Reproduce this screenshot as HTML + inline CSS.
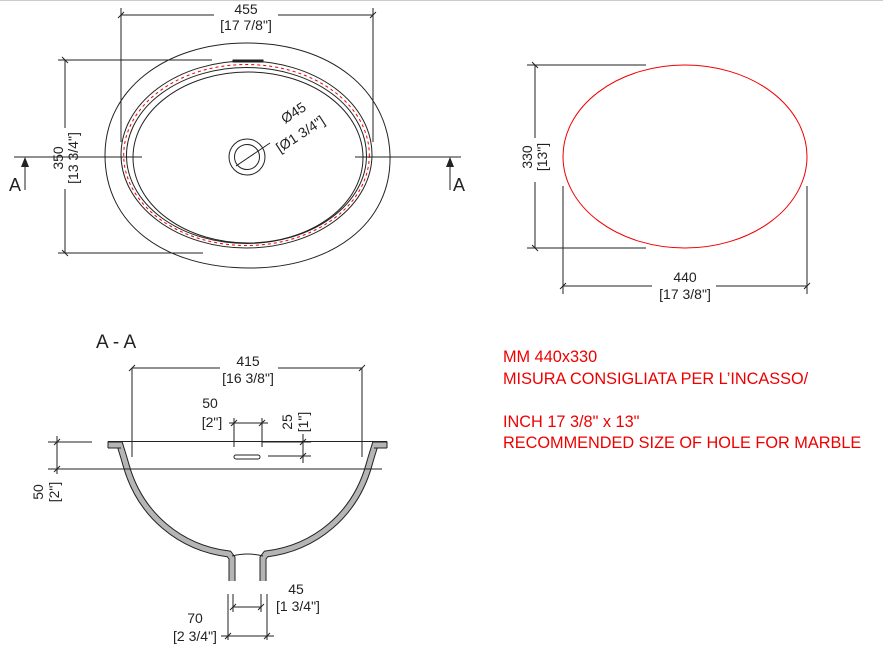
<!DOCTYPE html>
<html><head><meta charset="utf-8"><style>
html,body{margin:0;padding:0;background:#fff;}
svg{display:block}
text{font-family:"Liberation Sans",sans-serif;font-size:14px;fill:#222}
.r{fill:#e00;font-size:16.3px}
</style></head><body>
<svg width="883" height="649" viewBox="0 0 883 649" xmlns="http://www.w3.org/2000/svg">
<rect x="0" y="0" width="883" height="1" fill="#ccc"/>
<g stroke="#222" stroke-width="1" fill="none">
<path d="M247,43 C330,43 388,90 390,155 C392,225 330,268 250,268 C165,268 105,225 105,155 C105,90 165,43 247,43 Z"/>
<ellipse cx="246.5" cy="154.5" rx="125.5" ry="93.5"/>
<ellipse cx="246.5" cy="155.5" rx="120" ry="88"/>
<ellipse cx="248" cy="157.5" rx="115" ry="85.5"/>
<ellipse cx="246.5" cy="155" rx="122.8" ry="90.5" stroke="#e00" stroke-dasharray="3,3"/>
<rect x="233" y="60" width="30" height="2" fill="#222"/>
<circle cx="247" cy="157" r="18"/>
<circle cx="247" cy="157" r="12.5"/>
<line x1="236" y1="166" x2="270" y2="143"/>
<line x1="121" y1="8" x2="121" y2="142"/>
<line x1="373" y1="8" x2="373" y2="142"/>
<line x1="121" y1="15" x2="214" y2="15"/>
<line x1="278" y1="15" x2="373" y2="15"/>
<line x1="118" y1="18" x2="124" y2="12"/><line x1="370" y1="18" x2="376" y2="12"/>
<line x1="58" y1="60" x2="212" y2="60"/>
<line x1="58" y1="253" x2="203" y2="253"/>
<line x1="65" y1="60" x2="65" y2="128"/>
<line x1="65" y1="189" x2="65" y2="253"/>
<line x1="62" y1="57" x2="68" y2="63"/><line x1="62" y1="250" x2="68" y2="256"/>
<line x1="14" y1="157" x2="142" y2="157"/>
<line x1="355" y1="157" x2="461" y2="157"/>
<line x1="25" y1="165" x2="25" y2="190"/>
<line x1="450" y1="165" x2="450" y2="190"/>
<ellipse cx="685" cy="156.5" rx="122" ry="91.5" stroke="#e00"/>
<line x1="527" y1="65" x2="646" y2="65"/>
<line x1="527" y1="248" x2="646" y2="248"/>
<line x1="535" y1="65" x2="535" y2="138"/>
<line x1="535" y1="182" x2="535" y2="248"/>
<line x1="532" y1="62" x2="538" y2="68"/><line x1="532" y1="245" x2="538" y2="251"/>
<line x1="563" y1="186" x2="563" y2="294"/>
<line x1="807" y1="186" x2="807" y2="294"/>
<line x1="563" y1="286" x2="652" y2="286"/>
<line x1="716" y1="286" x2="807" y2="286"/>
<line x1="560" y1="289" x2="566" y2="283"/><line x1="804" y1="289" x2="810" y2="283"/>
</g>
<polygon points="25,157 21,167 29,167" fill="#222"/>
<polygon points="450,157 446,167 454,167" fill="#222"/>
<text x="9" y="191" style="font-size:18px">A</text>
<text x="453" y="191" style="font-size:18px">A</text>
<text x="246" y="14" text-anchor="middle">455</text>
<text x="246" y="30" text-anchor="middle">[17 7/8"]</text>
<text transform="translate(63,158) rotate(-90)" text-anchor="middle">350</text>
<text transform="translate(78,158) rotate(-90)" text-anchor="middle">[13 3/4"]</text>
<text transform="translate(285,124) rotate(-33)">Ø45</text>
<text transform="translate(280,153) rotate(-33)">[Ø1 3/4"]</text>
<text transform="translate(532,157) rotate(-90)" text-anchor="middle">330</text>
<text transform="translate(547,157) rotate(-90)" text-anchor="middle">[13"]</text>
<text x="685" y="282" text-anchor="middle">440</text>
<text x="685" y="299" text-anchor="middle">[17 3/8"]</text>

<text x="96" y="348" style="font-size:19px">A - A</text>
<g fill="none">
<path d="M105,445 L120,445 L124,458 L126,465 C140,515 180,548 229,554 L232,558 L232,581" stroke="#222" stroke-width="7"/>
<path d="M105,445 L120,445 L124,458 L126,465 C140,515 180,548 229,554 L232,558 L232,581" stroke="#b5b5b5" stroke-width="5"/>
<g transform="translate(495,0) scale(-1,1)">
<path d="M105,445 L120,445 L124,458 L126,465 C140,515 180,548 229,554 L232,558 L232,581" stroke="#222" stroke-width="7"/>
<path d="M105,445 L120,445 L124,458 L126,465 C140,515 180,548 229,554 L232,558 L232,581" stroke="#b5b5b5" stroke-width="5"/>
</g>
</g>
<rect x="101" y="440" width="7" height="10" fill="#fff"/>
<rect x="387" y="440" width="7" height="10" fill="#fff"/>
<g stroke="#222" stroke-width="1" fill="none">
<line x1="108" y1="441.5" x2="387" y2="441.5"/>
<line x1="108" y1="448" x2="121" y2="448"/>
<line x1="374" y1="448" x2="387" y2="448"/>
<line x1="108" y1="441.5" x2="108" y2="448"/><line x1="387" y1="441.5" x2="387" y2="448"/>
<line x1="113" y1="469" x2="382" y2="469"/>
<path d="M232,556 Q248,552 263,556"/>
<rect x="234" y="455" width="26" height="4" rx="2"/>
<line x1="132" y1="368" x2="132" y2="457"/>
<line x1="362" y1="368" x2="362" y2="457"/>
<line x1="132" y1="368" x2="220" y2="368"/>
<line x1="278" y1="368" x2="362" y2="368"/>
<line x1="129" y1="371" x2="135" y2="365"/><line x1="359" y1="371" x2="365" y2="365"/>
<line x1="234" y1="418" x2="234" y2="447"/>
<line x1="262" y1="418" x2="262" y2="447"/>
<line x1="229" y1="423" x2="268" y2="423"/>
<line x1="231" y1="426" x2="237" y2="420"/><line x1="259" y1="426" x2="265" y2="420"/>
<line x1="303" y1="434" x2="303" y2="463"/>
<line x1="268" y1="456" x2="311" y2="456"/>
<line x1="262" y1="442" x2="311" y2="442"/>
<line x1="300" y1="445" x2="306" y2="439"/><line x1="300" y1="459" x2="306" y2="453"/>
<line x1="48" y1="442" x2="92" y2="442"/>
<line x1="48" y1="469" x2="113" y2="469"/>
<line x1="57" y1="436" x2="57" y2="474"/>
<line x1="54" y1="445" x2="60" y2="439"/><line x1="54" y1="472" x2="60" y2="466"/>
<line x1="228" y1="594" x2="228" y2="640"/>
<line x1="233" y1="594" x2="233" y2="612"/>
<line x1="261" y1="594" x2="261" y2="612"/>
<line x1="267" y1="594" x2="267" y2="640"/>
<line x1="233" y1="607" x2="261" y2="607"/>
<line x1="230" y1="610" x2="236" y2="604"/><line x1="258" y1="610" x2="264" y2="604"/>
<line x1="221" y1="636" x2="274" y2="636"/>
<line x1="225" y1="639" x2="231" y2="633"/><line x1="264" y1="639" x2="270" y2="633"/>
</g>
<text x="248" y="366" text-anchor="middle">415</text>
<text x="248" y="383" text-anchor="middle">[16 3/8"]</text>
<text x="210" y="408" text-anchor="middle">50</text>
<text x="212" y="427" text-anchor="middle">[2"]</text>
<text transform="translate(292,422) rotate(-90)" text-anchor="middle">25</text>
<text transform="translate(308,422) rotate(-90)" text-anchor="middle">[1"]</text>
<text transform="translate(43,492) rotate(-90)" text-anchor="middle">50</text>
<text transform="translate(59,492) rotate(-90)" text-anchor="middle">[2"]</text>
<text x="296" y="594" text-anchor="middle">45</text>
<text x="298" y="611" text-anchor="middle">[1 3/4"]</text>
<text x="195" y="623" text-anchor="middle">70</text>
<text x="195" y="641" text-anchor="middle">[2 3/4"]</text>

<text class="r" x="503" y="362">MM 440x330</text>
<text class="r" x="503" y="384">MISURA CONSIGLIATA PER L’INCASSO/</text>
<text class="r" x="503" y="427">INCH 17 3/8" x 13"</text>
<text class="r" x="503" y="448">RECOMMENDED SIZE OF HOLE FOR MARBLE</text>
</svg>
</body></html>
